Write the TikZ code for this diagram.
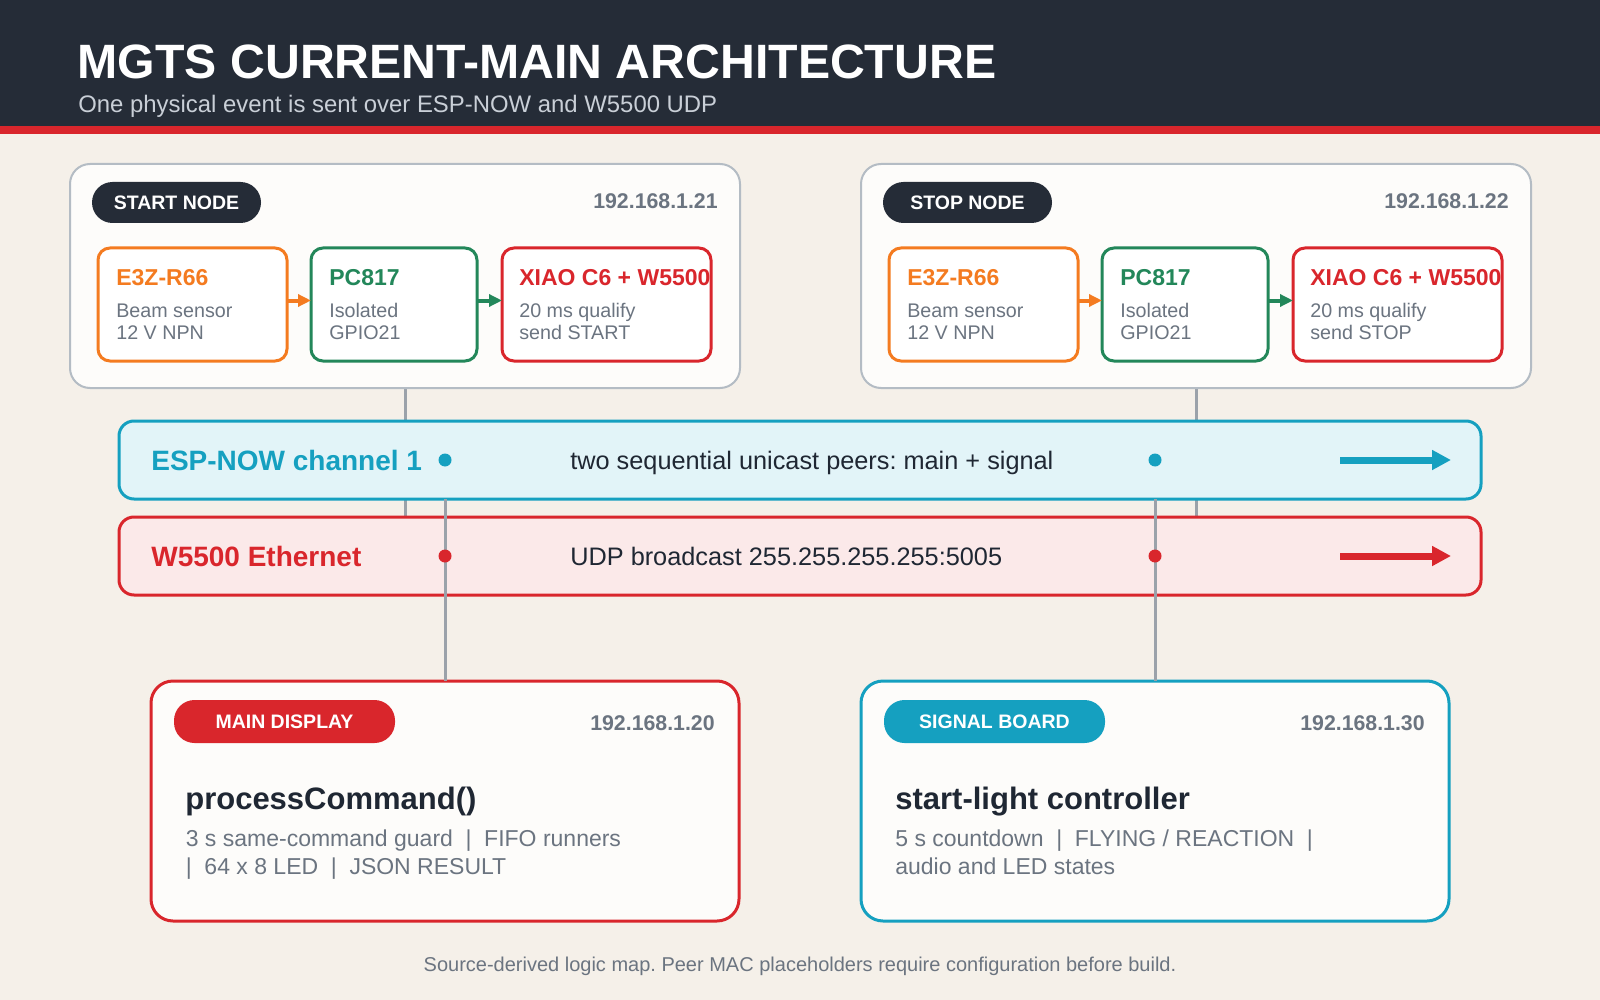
\documentclass[tikz,border=0pt]{standalone}
\usepackage{fontspec}
\setmainfont{Liberation Sans}
\usepackage{tikz}
\usetikzlibrary{arrows.meta,positioning,backgrounds}
\usepackage{xcolor}

\definecolor{pagebg}{HTML}{F5F0E9}
\definecolor{headdark}{HTML}{252C37}
\definecolor{subgrey}{HTML}{C9CFD7}
\definecolor{sred}{HTML}{D9262C}
\definecolor{steal}{HTML}{15A0C0}
\definecolor{sorange}{HTML}{F47B20}
\definecolor{sgreen}{HTML}{23875A}
\definecolor{txtgrey}{HTML}{6B7480}
\definecolor{txtdark}{HTML}{1F2733}
\definecolor{linkgrey}{HTML}{9BA2AA}
\definecolor{panelgrey}{HTML}{B4BCC4}
\definecolor{boxfill}{HTML}{FDFCFA}
\definecolor{espfill}{HTML}{E2F4F8}
\definecolor{ethfill}{HTML}{FBE9E9}

\frenchspacing
\newcommand{\fsz}[1]{\fontsize{#1}{#1}\selectfont}
\newcommand{\vsep}{\hspace{0.55em}|\hspace{0.55em}}

\begin{document}
\begin{tikzpicture}[x=1pt,y=-1pt,
	every node/.style={outer sep=0pt},
	panel/.style={draw=panelgrey,line width=2pt,fill=boxfill,rounded corners=20pt,minimum width=670pt,minimum height=224pt},
	part/.style={line width=3pt,fill=white,rounded corners=12pt,minimum height=113pt},
	pill/.style={rounded corners=20.5pt,minimum height=41pt,text=white,font=\bfseries\fsz{19.5}},
	ip/.style={anchor=base east,text=txtgrey,font=\bfseries\fsz{21.3}},
	parttitle/.style={anchor=base west,font=\bfseries\fsz{23}},
	partline/.style={anchor=base west,text=txtgrey,font=\fsz{19.7}},
	band/.style={line width=3pt,rounded corners=15pt,minimum width=1362pt,minimum height=78pt},
	bandlabel/.style={anchor=base west,font=\bfseries\fsz{28}},
	bandtext/.style={anchor=base west,text=txtdark,font=\fsz{25.3}},
	board/.style={line width=3pt,fill=boxfill,rounded corners=22pt,minimum width=588pt,minimum height=240pt},
	boardtitle/.style={anchor=base west,text=txtdark,font=\bfseries\fsz{31}},
	boardline/.style={anchor=base west,text=txtgrey,font=\fsz{23}},
	dot/.style={circle,inner sep=0pt,minimum size=13pt},
	link/.style={draw=linkgrey,line width=3pt},
	flow/.style={line width=4pt,-{Triangle[length=13pt,width=12pt]}},
	bandarrow/.style={line width=7pt,-{Triangle[length=19pt,width=19pt]}}]
	\useasboundingbox (0,0) rectangle (1600,1000);
	\fill[headdark] (0,0) rectangle (1600,126);
	\fill[sred] (0,126) rectangle (1600,134);
	\node[anchor=base west,text=white,font=\bfseries\fsz{48.2}] (title) at (74.5,79) {MGTS CURRENT-MAIN ARCHITECTURE};
	\node[anchor=base west,text=subgrey,font=\fsz{23.9}] (subtitle) at (75,113) {One physical event is sent over ESP-NOW and W5500 UDP};

	\node[panel] (startbox) at (405,276) {};
	\node[pill,fill=headdark,minimum width=169pt] (startpill) at (176.5,202.5) {START NODE};
	\node[ip] (startip) at (721,209) {192.168.1.21};
	\node[part,draw=sorange,minimum width=189pt] (e3z1) at (192.5,304.5) {};
	\node[part,draw=sgreen,minimum width=166pt] (pc1) at (394,304.5) {};
	\node[part,draw=sred,minimum width=209pt] (xiao1) at (606.5,304.5) {};
	\node[parttitle,text=sorange] (e3z1t) at ([shift={(15,37)}]e3z1.north west) {E3Z-R66};
	\node[partline] (e3z1a) at ([shift={(15,69)}]e3z1.north west) {Beam sensor};
	\node[partline] (e3z1b) at ([shift={(15,91)}]e3z1.north west) {12 V NPN};
	\node[parttitle,text=sgreen] (pc1t) at ([shift={(15,37)}]pc1.north west) {PC817};
	\node[partline] (pc1a) at ([shift={(15,69)}]pc1.north west) {Isolated};
	\node[partline] (pc1b) at ([shift={(15,91)}]pc1.north west) {GPIO21};
	\node[parttitle,text=sred] (xiao1t) at ([shift={(14,37)}]xiao1.north west) {XIAO C6 + W5500};
	\node[partline] (xiao1a) at ([shift={(14,69)}]xiao1.north west) {20 ms qualify};
	\node[partline] (xiao1b) at ([shift={(14,91)}]xiao1.north west) {send START};
	\draw[flow,sorange] ([yshift=4pt]e3z1.east) -- ([yshift=4pt]pc1.west);
	\draw[flow,sgreen] ([yshift=4pt]pc1.east) -- ([yshift=4pt]xiao1.west);

	\node[panel] (stopbox) at (1196,276) {};
	\node[pill,fill=headdark,minimum width=169pt] (stoppill) at (967.5,202.5) {STOP NODE};
	\node[ip] (stopip) at (1512,209) {192.168.1.22};
	\node[part,draw=sorange,minimum width=189pt] (e3z2) at (983.5,304.5) {};
	\node[part,draw=sgreen,minimum width=166pt] (pc2) at (1185,304.5) {};
	\node[part,draw=sred,minimum width=209pt] (xiao2) at (1397.5,304.5) {};
	\node[parttitle,text=sorange] (e3z2t) at ([shift={(15,37)}]e3z2.north west) {E3Z-R66};
	\node[partline] (e3z2a) at ([shift={(15,69)}]e3z2.north west) {Beam sensor};
	\node[partline] (e3z2b) at ([shift={(15,91)}]e3z2.north west) {12 V NPN};
	\node[parttitle,text=sgreen] (pc2t) at ([shift={(15,37)}]pc2.north west) {PC817};
	\node[partline] (pc2a) at ([shift={(15,69)}]pc2.north west) {Isolated};
	\node[partline] (pc2b) at ([shift={(15,91)}]pc2.north west) {GPIO21};
	\node[parttitle,text=sred] (xiao2t) at ([shift={(14,37)}]xiao2.north west) {XIAO C6 + W5500};
	\node[partline] (xiao2a) at ([shift={(14,69)}]xiao2.north west) {20 ms qualify};
	\node[partline] (xiao2b) at ([shift={(14,91)}]xiao2.north west) {send STOP};
	\draw[flow,sorange] ([yshift=4pt]e3z2.east) -- ([yshift=4pt]pc2.west);
	\draw[flow,sgreen] ([yshift=4pt]pc2.east) -- ([yshift=4pt]xiao2.west);

	\node[band,draw=steal,fill=espfill] (esp) at (800,460) {};
	\node[band,draw=sred,fill=ethfill] (eth) at (800,556) {};
	\node[bandlabel,text=steal] (esplabel) at (148,470) {ESP-NOW channel 1};
	\node[bandtext] (esptext) at (567,469) {two sequential unicast peers: main + signal};
	\node[bandlabel,text=sred] (ethlabel) at (148,566) {W5500 Ethernet};
	\node[bandtext] (ethtext) at (567,565) {UDP broadcast 255.255.255.255:5005};
	\coordinate (espa) at (1340,460);
	\coordinate (espb) at (1451,460);
	\coordinate (etha) at (1340,556);
	\coordinate (ethb) at (1451,556);
	\draw[bandarrow,steal] (espa) -- (espb);
	\draw[bandarrow,sred] (etha) -- (ethb);

	\begin{pgfonlayer}{background}
		\fill[pagebg] (0,0) rectangle (1600,1000);
		\draw[link] (startbox.south) -- (startbox.south |- eth.north);
		\draw[link] (stopbox.south) -- (stopbox.south |- eth.north);
	\end{pgfonlayer}

	\node[board,draw=sred] (main) at (445,801) {};
	\node[board,draw=steal] (signal) at (1155,801) {};
	\draw[link] (esp.south -| main.north) -- (main.north);
	\draw[link] (esp.south -| signal.north) -- (signal.north);
	\node[dot,fill=steal] (espdot1) at (esp.center -| main.north) {};
	\node[dot,fill=steal] (espdot2) at (esp.center -| signal.north) {};
	\node[dot,fill=sred] (ethdot1) at (eth.center -| main.north) {};
	\node[dot,fill=sred] (ethdot2) at (eth.center -| signal.north) {};

	\node[pill,fill=sred,minimum width=221pt,minimum height=43pt] (mainpill) at (284.5,721.5) {MAIN DISPLAY};
	\node[ip] (mainip) at (718,730) {192.168.1.20};
	\node[boardtitle] (maint) at (182,809) {processCommand()};
	\node[boardline] (maina) at (182.5,846) {3 s same-command guard\vsep FIFO runners};
	\node[boardline] (mainb) at (182.5,874) {|\hspace{0.55em}64 x 8 LED\vsep JSON RESULT};

	\node[pill,fill=steal,minimum width=221pt,minimum height=43pt] (signalpill) at (994.5,721.5) {SIGNAL BOARD};
	\node[ip] (signalip) at (1428,730) {192.168.1.30};
	\node[boardtitle] (signalt) at (892,809) {start-light controller};
	\node[boardline] (signala) at (892,846) {5 s countdown\vsep FLYING / REACTION\vsep};
	\node[boardline] (signalb) at (892,874) {audio and LED states};

	\node[anchor=base,text=txtgrey,font=\fsz{20}] (note) at (800,971) {Source-derived logic map. Peer MAC placeholders require configuration before build.};
\end{tikzpicture}
\end{document}
